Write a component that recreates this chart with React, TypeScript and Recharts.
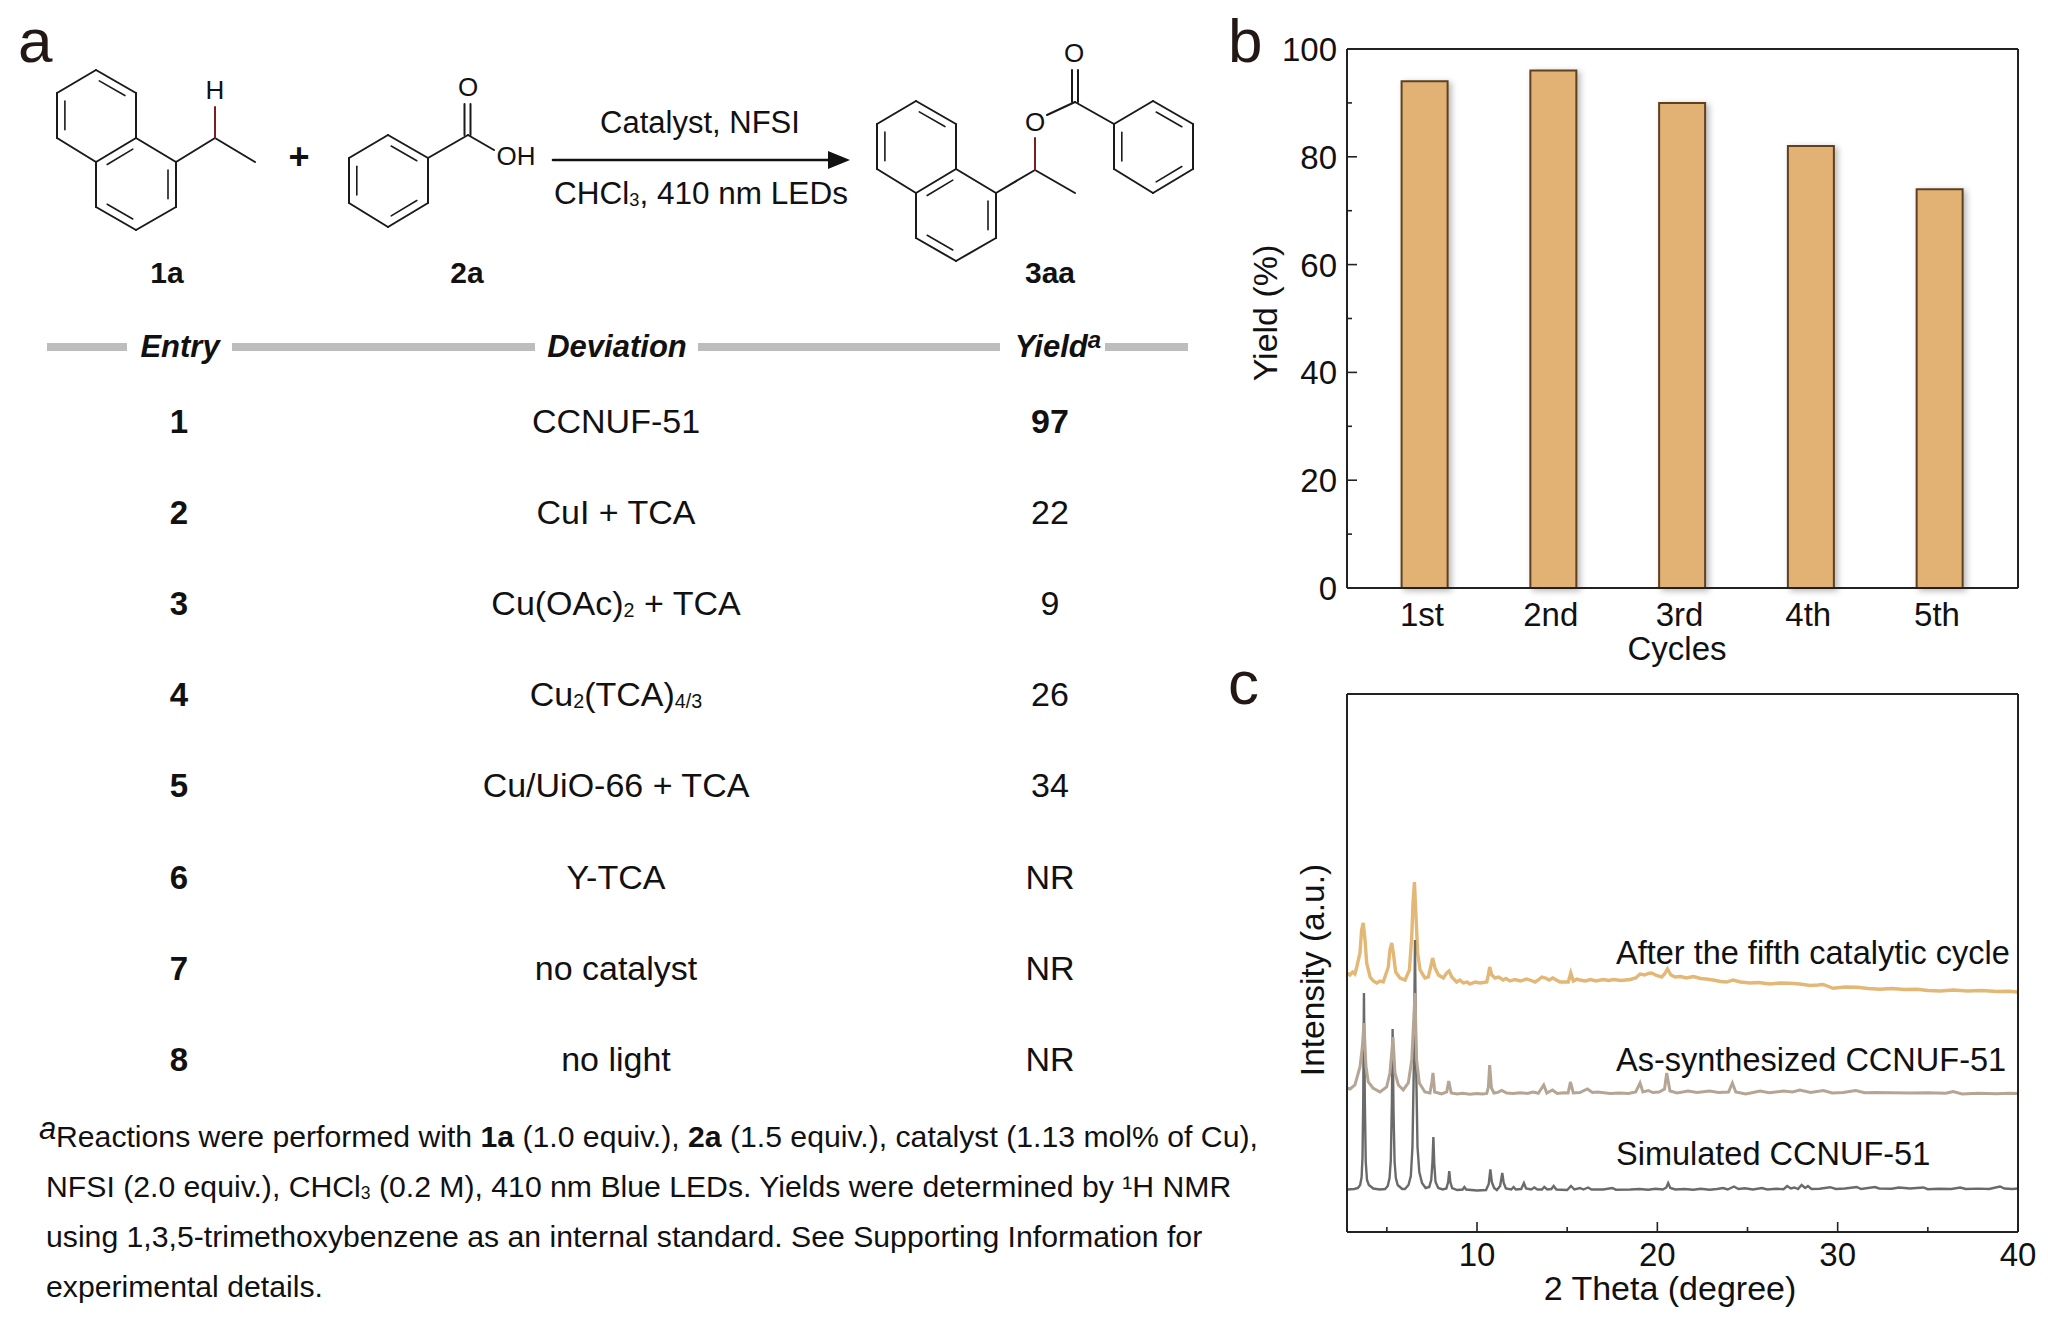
import * as React from 'react'
import { BarChart, Bar, LineChart, Line, XAxis, YAxis, Rectangle } from 'recharts'

// panel b: recycling yields
const cycles = ['1st', '2nd', '3rd', '4th', '5th']
const yields = [94, 96, 90, 82, 74]
const yieldTicks = [0, 10, 20, 30, 40, 50, 60, 70, 80, 90, 100]

// panel c: PXRD patterns, [2 theta, intensity (a.u.)]
const thetaTicks = [5, 10, 15, 20, 25, 30, 35, 40]

const simulated: [number, number][] = [
  [2.79, 42.5], [3.2, 43], [3.4, 44], [3.52, 47], [3.6, 55], [3.65, 75], [3.69, 130], [3.73, 239], [3.78, 130], [3.83, 70], [3.9, 52], [4.0, 47], [4.25, 43.5], [4.6, 42.5], [4.9, 43],
  [5.05, 46], [5.15, 54], [5.22, 72], [5.28, 130], [5.32, 203], [5.37, 120], [5.43, 70], [5.5, 54], [5.6, 47], [5.85, 43], [6.0, 43], [6.2, 47], [6.33, 56], [6.42, 85], [6.5, 170], [6.56, 292],
  [6.62, 170], [6.7, 85], [6.8, 60], [6.95, 49], [7.15, 44], [7.35, 45], [7.46, 52], [7.53, 70], [7.58, 95], [7.63, 68], [7.7, 50], [7.85, 44], [8.1, 42.5], [8.3, 43.5], [8.4, 50], [8.46, 61],
  [8.52, 50], [8.62, 44], [8.9, 42], [9.2, 42.5], [9.3, 45], [9.4, 42.5], [10, 41.5], [10.5, 42], [10.65, 48], [10.74, 62.7], [10.82, 50], [10.95, 44], [11.1, 42], [11.28, 46], [11.4, 59],
  [11.48, 49], [11.6, 43.5], [11.9, 42.5], [12.03, 45], [12.15, 42.5], [12.45, 43], [12.6, 49], [12.72, 43.5], [13, 42.5], [13.18, 44.5], [13.35, 42.5], [13.6, 42.5], [13.73, 45], [13.9, 42.5],
  [14.12, 43], [14.25, 46], [14.4, 42.5], [15, 42], [15.21, 46], [15.4, 42.5], [15.71, 44], [15.9, 42.5], [16.16, 44.5], [16.35, 42.5], [17, 42.5], [17.5, 44], [17.7, 42.3], [18.5, 42.5],
  [19, 43], [19.5, 42.3], [19.9, 43.3], [20.3, 42.5], [20.5, 44.5], [20.6, 49], [20.72, 44], [21, 42.5], [21.5, 43], [22, 42.2], [22.4, 43.2], [22.9, 42.3], [23.3, 43], [23.65, 44], [23.9, 42.5],
  [24.25, 45.5], [24.5, 43], [24.85, 43.8], [25.3, 42.5], [25.8, 44], [26.1, 42.5], [26.6, 43.2], [27, 42.8], [27.2, 46], [27.4, 43.5], [27.6, 44.5], [27.8, 43], [28, 47], [28.2, 44], [28.35, 46],
  [28.55, 43], [29, 43.2], [29.58, 44.8], [29.9, 43], [30.4, 43.5], [31.06, 45], [31.3, 43], [32.07, 45], [32.3, 43.5], [33, 43.2], [33.4, 44.5], [33.7, 44], [34, 43.5], [34.75, 44.5], [35, 42.8],
  [35.6, 43.2], [36.3, 43], [36.8, 44.5], [37.1, 43], [37.8, 43.4], [38.4, 43], [39, 45.5], [39.25, 43.5], [39.7, 43], [40, 43.5],
]

const asSynthesized: [number, number][] = [
  [2.8, 143.7], [2.96, 143], [3.23, 147], [3.51, 165], [3.64, 185], [3.73, 209], [3.84, 166], [3.97, 150], [4.23, 144], [4.62, 140], [4.99, 145], [5.17, 159], [5.27, 179], [5.34, 195], [5.45, 159],
  [5.64, 147], [5.91, 142], [6.19, 149], [6.38, 172], [6.47, 205], [6.56, 239], [6.65, 172], [6.8, 149], [7.11, 140], [7.39, 139], [7.49, 149], [7.56, 159], [7.65, 140], [8.04, 138], [8.32, 140],
  [8.43, 151], [8.57, 139], [8.9, 138], [9.2, 138.8], [9.6, 137.8], [10, 138.6], [10.3, 138], [10.54, 138.5], [10.63, 145], [10.7, 167], [10.8, 144], [10.94, 139], [11.15, 139.6], [11.37, 141.5],
  [11.65, 139], [12, 138.5], [12.4, 139.3], [12.8, 138.6], [13.1, 140], [13.4, 138.7], [13.7, 147], [13.87, 139], [14.18, 142], [14.45, 138.5], [14.8, 139.2], [15.05, 139], [15.18, 150], [15.34, 139],
  [15.7, 139.5], [16.12, 143], [16.4, 139.5], [16.7, 140], [17.38, 138.5], [17.9, 139], [18.4, 138.6], [18.8, 140], [19.04, 149], [19.2, 140], [19.5, 141.5], [19.75, 139.5], [20.1, 140], [20.4, 143],
  [20.52, 159], [20.7, 141], [21.1, 139], [21.7, 141], [22.2, 139.5], [22.9, 141], [23.4, 139.5], [23.95, 140], [24.16, 149], [24.35, 140], [24.9, 138], [25.7, 141], [26.2, 139.3], [27, 141],
  [27.5, 140], [27.9, 142], [28.5, 139.5], [29.2, 141.5], [29.7, 139], [30.3, 139.5], [31, 141.5], [31.5, 139.3], [32.1, 139.5], [33, 139.3], [34, 139], [35, 139.2], [36, 138.8], [36.4, 140.5],
  [36.9, 138], [37.8, 138.8], [38.8, 138.3], [39.5, 138.8], [40, 138.6],
]

const afterCycle: [number, number][] = [
  [2.8, 259], [2.95, 257], [3.1, 260], [3.23, 258], [3.33, 265], [3.51, 279], [3.6, 302], [3.69, 309], [3.79, 292], [3.88, 269], [4.07, 255], [4.25, 251], [4.44, 249], [4.62, 251], [4.8, 250],
  [5.08, 265], [5.17, 282], [5.27, 289], [5.36, 279], [5.49, 260], [5.73, 254], [6.01, 252], [6.25, 262], [6.38, 295], [6.45, 329], [6.53, 350], [6.6, 322], [6.71, 279], [6.84, 262], [7.11, 254],
  [7.3, 255], [7.43, 265], [7.54, 274], [7.67, 264], [7.86, 257], [8.13, 254], [8.32, 259], [8.45, 261], [8.6, 255], [8.87, 250], [9.05, 252], [9.24, 249], [9.45, 250], [9.61, 248], [9.9, 250],
  [10.17, 249], [10.54, 250], [10.63, 257], [10.7, 265], [10.82, 257], [11, 254], [11.2, 255], [11.45, 252], [11.6, 253.5], [11.83, 251], [12.1, 252.5], [12.4, 251], [12.76, 253], [13.0, 251.5],
  [13.22, 250], [13.4, 252], [13.59, 255], [13.8, 254], [14, 252], [14.2, 254], [14.6, 250], [15.06, 250], [15.2, 259], [15.34, 251], [15.55, 253], [15.71, 252], [16, 251], [16.3, 252.5], [16.6, 251],
  [17, 252.5], [17.3, 251.5], [17.56, 252.5], [18, 251.5], [18.49, 252.5], [18.8, 254], [19.04, 258], [19.3, 257], [19.5, 258.5], [19.69, 259], [19.95, 256.5], [20.24, 255], [20.4, 258], [20.56, 263],
  [20.75, 257], [20.98, 255], [21.3, 255.5], [21.6, 254], [22, 255.5], [22.4, 253.5], [22.7, 253], [23.1, 252], [23.5, 250.5], [23.85, 250], [24.2, 252], [24.6, 250], [25.14, 249], [25.6, 249.5],
  [26.25, 248], [26.8, 249], [27.36, 248.7], [27.9, 248], [28.47, 246.5], [28.9, 247], [29.2, 247.5], [29.74, 243.7], [30.4, 245], [31.06, 244.7], [31.7, 243.5], [32.35, 242.7], [33, 243.5],
  [33.7, 242.5], [34.4, 242.7], [35, 241.5], [35.7, 241], [36.4, 242], [37.2, 241], [38, 241.5], [38.8, 240.5], [39.5, 240.8], [40, 240],
]

// panel a: optimisation table
const entries = ['1', '2', '3', '4', '5', '6', '7', '8']
const deviations = ['CCNUF-51', 'CuI + TCA', 'Cu(OAc)~2~ + TCA', 'Cu~2~(TCA)~4/3~', 'Cu/UiO-66 + TCA', 'Y-TCA', 'no catalyst', 'no light']
const tableYields = ['97', '22', '9', '26', '34', 'NR', 'NR', 'NR']

const barData = cycles.map((c, i) => ({ cycle: c, value: yields[i] }))
const toPoints = (s: [number, number][]) => s.map(([x, y]) => ({ x, y }))

const FONT = '"Liberation Sans", Arial, sans-serif'
const INK = '#111'
const FRAME = '#222'

function YieldTick(props: any) {
  const { x, y, payload } = props
  const major = payload.value % 20 === 0
  return (
    <g>
      <line x1={x} x2={x + (major ? 10 : 5)} y1={y} y2={y} stroke={FRAME} strokeWidth={1.6} />
      {major ? <text x={x - 10} y={y + 12} textAnchor="end" fontSize={33} fontFamily={FONT} fill={INK}>{payload.value}</text> : null}
    </g>
  )
}

function CycleTick(props: any) {
  const { x, y, payload } = props
  return <text x={x - 3} y={y + 38} textAnchor="middle" fontSize={33} fontFamily={FONT} fill={INK}>{payload.value}</text>
}

function ThetaTick(props: any) {
  const { x, y, payload } = props
  const major = payload.value % 10 === 0
  return (
    <g>
      <line x1={x} x2={x} y1={y} y2={y - (major ? 10 : 5)} stroke={FRAME} strokeWidth={1.6} />
      {major ? <text x={x} y={y + 34} textAnchor="middle" fontSize={33} fontFamily={FONT} fill={INK}>{payload.value}</text> : null}
    </g>
  )
}

function ShadowBar(props: any) {
  return <Rectangle {...props} style={{ filter: 'drop-shadow(3px 2px 3px rgba(0,0,0,0.28))' }} />
}

function YieldPanel() {
  return (
    <div style={{ position: 'absolute', left: 1220, top: 0 }}>
      <BarChart width={828} height={690} data={barData} margin={{ top: 48, right: 29, bottom: 101, left: 126 }}>
        <XAxis dataKey="cycle" height={1} interval={0} padding={{ left: 13.6, right: 13.6 }} tickSize={0} tickMargin={0} tick={<CycleTick />} axisLine={{ stroke: FRAME, strokeWidth: 2 }} />
        <XAxis xAxisId="top" dataKey="cycle" orientation="top" height={1} tick={false} tickLine={false} axisLine={{ stroke: FRAME, strokeWidth: 2 }} />
        <YAxis width={1} domain={[0, 100]} ticks={yieldTicks} interval={0} tickSize={0} tickMargin={0} tick={<YieldTick />} axisLine={{ stroke: FRAME, strokeWidth: 2 }} />
        <YAxis yAxisId="right" orientation="right" width={1} domain={[0, 100]} tick={false} tickLine={false} axisLine={{ stroke: FRAME, strokeWidth: 2 }} />
        <Bar dataKey="value" barSize={46} fill="#E1B273" stroke="#5F4122" strokeWidth={2} shape={ShadowBar} isAnimationActive={false} />
      </BarChart>
    </div>
  )
}

function PxrdPanel() {
  return (
    <div style={{ position: 'absolute', left: 1220, top: 640 }}>
      <LineChart width={828} height={686} margin={{ top: 53, right: 29, bottom: 93, left: 126 }}>
        <XAxis dataKey="x" type="number" domain={[2.79, 40]} allowDataOverflow ticks={thetaTicks} interval={0} height={1} tickSize={0} tickMargin={0} tick={<ThetaTick />} axisLine={{ stroke: FRAME, strokeWidth: 2 }} />
        <XAxis xAxisId="top" dataKey="x" type="number" domain={[2.79, 40]} allowDataOverflow orientation="top" height={1} tick={false} tickLine={false} axisLine={{ stroke: FRAME, strokeWidth: 2 }} />
        <YAxis width={1} domain={[0, 538]} allowDataOverflow tick={false} tickLine={false} axisLine={{ stroke: FRAME, strokeWidth: 2 }} />
        <YAxis yAxisId="right" orientation="right" width={1} domain={[0, 538]} tick={false} tickLine={false} axisLine={{ stroke: FRAME, strokeWidth: 2 }} />
        <Line data={toPoints(afterCycle)} dataKey="y" type="linear" dot={false} stroke="#E3B877" strokeWidth={3.4} isAnimationActive={false} />
        <Line data={toPoints(simulated)} dataKey="y" type="linear" dot={false} stroke="#6A6A6A" strokeWidth={2.4} isAnimationActive={false} />
        <Line data={toPoints(asSynthesized)} dataKey="y" type="linear" dot={false} stroke="#B5A595" strokeWidth={3} isAnimationActive={false} />
      </LineChart>
    </div>
  )
}

type Pt = [number, number]

function Bond({ a, b, color = '#1a1a1a', w = 2 }: { a: Pt; b: Pt; color?: string; w?: number }) {
  return <line x1={a[0]} y1={a[1]} x2={b[0]} y2={b[1]} stroke={color} strokeWidth={w} strokeLinecap="round" />
}

// second line of a double bond, pulled toward the ring centre
function Inner({ a, b, c }: { a: Pt; b: Pt; c: Pt }) {
  const k = 0.2
  const p = (q: Pt): Pt => [q[0] + (c[0] - q[0]) * k, q[1] + (c[1] - q[1]) * k]
  const pa = p(a)
  const pb = p(b)
  const t = 0.1
  return <Bond a={[pa[0] + (pb[0] - pa[0]) * t, pa[1] + (pb[1] - pa[1]) * t]} b={[pb[0] + (pa[0] - pb[0]) * t, pb[1] + (pa[1] - pb[1]) * t]} w={1.6} />
}

function Naphthalene({ dx, dy }: { dx: number; dy: number }) {
  const t = (x: number, y: number): Pt => [x + dx, y + dy]
  const top = t(96, 70), ur = t(136, 93), jt = t(136, 138), ul = t(57, 93), ll = t(57, 138)
  const jb = t(96, 162), r = t(176, 162), lr = t(176, 207), bot = t(136, 230), lb = t(96, 207)
  const c1 = t(96.5, 115), c2 = t(136, 184)
  const ring: Pt[][] = [[top, ur], [ur, jt], [jt, jb], [jb, ll], [ll, ul], [ul, top], [jt, r], [r, lr], [lr, bot], [bot, lb], [lb, jb]]
  return (
    <g>
      {ring.map((s, i) => <Bond key={i} a={s[0]} b={s[1]} />)}
      <Inner a={top} b={ur} c={c1} />
      <Inner a={ul} b={ll} c={c1} />
      <Inner a={jt} b={jb} c={c2} />
      <Inner a={r} b={lr} c={c2} />
      <Inner a={lb} b={bot} c={c2} />
    </g>
  )
}

function Benzene({ dx, dy }: { dx: number; dy: number }) {
  const t = (x: number, y: number): Pt => [x + dx, y + dy]
  const top = t(388, 135), ur = t(428, 158), lr = t(428, 203), bot = t(388, 227), ll = t(349, 203), ul = t(349, 158)
  const c = t(388, 181)
  const ring: Pt[] = [top, ur, lr, bot, ll, ul, top]
  return (
    <g>
      {ring.slice(1).map((p, i) => <Bond key={i} a={ring[i]} b={p} />)}
      <Inner a={top} b={ur} c={c} />
      <Inner a={lr} b={bot} c={c} />
      <Inner a={ll} b={ul} c={c} />
    </g>
  )
}

function Txt({ x, y, size = 30, anchor = 'middle', bold, italic, children, color = INK, rotate }: any) {
  return (
    <text x={x} y={y} fontSize={size} textAnchor={anchor} fontFamily={FONT} fill={color} fontWeight={bold ? 700 : 400} fontStyle={italic ? 'italic' : 'normal'} transform={rotate ? `rotate(${rotate} ${x} ${y})` : undefined}>
      {children}
    </text>
  )
}

// "~x~" marks a small subscript
function withSubs(s: string, size: number) {
  return s.split('~').map((part, i) => (
    <tspan key={i} fontSize={i % 2 ? size * 0.58 : size} dy={i === 0 ? 0 : i % 2 ? 2 : -2}>{part}</tspan>
  ))
}

function Scheme() {
  return (
    <g>
      <Naphthalene dx={0} dy={0} />
      <Bond a={[176, 162]} b={[215, 138]} />
      <Bond a={[215, 138]} b={[255, 162]} />
      <Bond a={[215, 138]} b={[215, 107]} color="#7a1f1f" />
      <Txt x={215} y={99} size={26}>H</Txt>
      <Txt x={299} y={169} size={36} bold>+</Txt>

      <Benzene dx={0} dy={0} />
      <Bond a={[428, 158]} b={[468, 135]} />
      <Bond a={[464.5, 135]} b={[464.5, 104]} />
      <Bond a={[470.5, 135]} b={[470.5, 104]} />
      <Bond a={[468, 135]} b={[494, 150]} />
      <Txt x={468} y={96} size={26}>O</Txt>
      <Txt x={516} y={165} size={26}>OH</Txt>

      <Bond a={[553, 160]} b={[832, 160]} color="#111" w={2.6} />
      <polygon points="850,160 828,151 828,169" fill="#111" />
      <Txt x={700} y={133} size={31}>Catalyst, NFSI</Txt>
      <Txt x={701} y={204} size={31.5}>{withSubs('CHCl~3~, 410 nm LEDs', 31.5)}</Txt>

      <Naphthalene dx={820} dy={31} />
      <Bond a={[996, 193]} b={[1035, 170]} />
      <Bond a={[1035, 170]} b={[1075, 193]} />
      <Bond a={[1035, 170]} b={[1035, 138]} color="#7a1f1f" />
      <Txt x={1035} y={131} size={26}>O</Txt>
      <Bond a={[1047, 115]} b={[1075, 102]} />
      <Bond a={[1072, 102]} b={[1072, 70]} />
      <Bond a={[1078, 102]} b={[1078, 70]} />
      <Txt x={1074} y={62} size={26}>O</Txt>
      <Bond a={[1075, 102]} b={[1114, 124]} />
      <Benzene dx={765} dy={-34} />

      <Txt x={167} y={283} size={30} bold>1a</Txt>
      <Txt x={467} y={283} size={30} bold>2a</Txt>
      <Txt x={1050} y={283} size={30} bold>3aa</Txt>
    </g>
  )
}

const headerBars: [number, number][] = [[47, 127], [232, 535], [698, 1000], [1105, 1188]]

function Table() {
  const rowY = (i: number) => 421.5 + i * 91.2
  return (
    <g>
      {headerBars.map(([a, b], i) => <rect key={i} x={a} y={343} width={b - a} height={8} fill="#BDBDBD" />)}
      <Txt x={180} y={357} size={31} bold italic>Entry</Txt>
      <Txt x={617} y={357} size={31} bold italic>Deviation</Txt>
      <Txt x={1058} y={357} size={31} bold italic>Yield<tspan fontSize={24} dy={-9}>a</tspan></Txt>
      {entries.map((e, i) => <Txt key={e} x={179} y={rowY(i) + 11} size={33} bold>{e}</Txt>)}
      {deviations.map((d, i) => <Txt key={d} x={616} y={rowY(i) + 11} size={34}>{withSubs(d, 34)}</Txt>)}
      {tableYields.map((v, i) => <Txt key={i} x={1050} y={rowY(i) + 11} size={34} bold={i === 0}>{v}</Txt>)}
    </g>
  )
}

function Footnote() {
  return (
    <g>
      <Txt x={39} y={1139} size={31} anchor="start" italic>a</Txt>
      <Txt x={56} y={1147} size={30.2} anchor="start">
        Reactions were performed with <tspan fontWeight={700}>1a</tspan> (1.0 equiv.), <tspan fontWeight={700}>2a</tspan> (1.5 equiv.), catalyst (1.13 mol% of Cu),
      </Txt>
      <Txt x={46} y={1197} size={30.2} anchor="start">{withSubs('NFSI (2.0 equiv.), CHCl~3~ (0.2 M), 410 nm Blue LEDs. Yields were determined by ¹H NMR', 30.2)}</Txt>
      <Txt x={46} y={1247} size={30.2} anchor="start">using 1,3,5-trimethoxybenzene as an internal standard. See Supporting Information for</Txt>
      <Txt x={46} y={1297} size={30.2} anchor="start">experimental details.</Txt>
    </g>
  )
}

export default function App() {
  return (
    <div style={{ position: 'absolute', left: 0, top: 0, width: 2048, height: 1326, background: '#fff', overflow: 'hidden' }}>
      <YieldPanel />
      <PxrdPanel />
      <svg width={2048} height={1326} style={{ position: 'absolute', left: 0, top: 0, pointerEvents: 'none' }}>
        <Txt x={18} y={62} size={62} anchor="start" color="#231815">a</Txt>
        <Txt x={1228} y={62} size={62} anchor="start" color="#231815">b</Txt>
        <Txt x={1228} y={704} size={62} anchor="start" color="#231815">c</Txt>
        <Scheme />
        <Table />
        <Footnote />
        <Txt x={1277} y={313} size={34} rotate={-90}>Yield (%)</Txt>
        <Txt x={1677} y={660} size={33}>Cycles</Txt>
        <Txt x={1324} y={970} size={33.5} rotate={-90}>Intensity (a.u.)</Txt>
        <Txt x={1670} y={1300} size={34}>2 Theta (degree)</Txt>
        <Txt x={1616} y={964} size={32.5} anchor="start">After the fifth catalytic cycle</Txt>
        <Txt x={1616} y={1071} size={32.5} anchor="start">As-synthesized CCNUF-51</Txt>
        <Txt x={1616} y={1165} size={32.5} anchor="start">Simulated CCNUF-51</Txt>
      </svg>
    </div>
  )
}
